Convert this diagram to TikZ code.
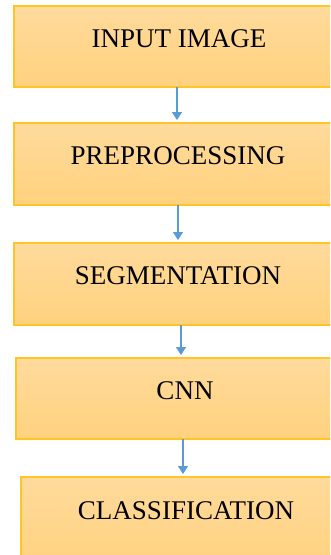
\documentclass[tikz,border=0pt]{standalone}
\usepackage{fontspec}
\setmainfont{Liberation Serif}
\usetikzlibrary{arrows.meta}
\definecolor{boxline}{HTML}{FFC425}
\definecolor{boxtop}{HTML}{FFDA9C}
\definecolor{boxbot}{HTML}{FFD27E}
\definecolor{flowblue}{HTML}{5B9BD5}
\tikzset{
	stage/.style={draw=boxline,line width=1.5pt,top color=boxtop,bottom color=boxbot,rectangle,anchor=north west,inner sep=0,outer sep=0,text height=41pt,text depth=40pt,font=\fontsize{27}{30}\selectfont},
	flow/.style={draw=flowblue,line width=1.3pt,-{Triangle[length=8pt,width=10pt]},shorten >=3pt}
}
\begin{document}
\begin{tikzpicture}[x=1pt,y=-1pt]
	\useasboundingbox (0,0) rectangle (330,555);
	\clip (0,0) rectangle (330,555);
	\node[stage,minimum width=330pt] (input) at (14,6) {INPUT IMAGE};
	\node[stage,minimum width=328pt,text depth=41pt] (prep) at (14,123) {PREPROCESSING};
	\node[stage,minimum width=328pt,text depth=41pt] (seg) at (14,243) {SEGMENTATION};
	\node[stage,minimum width=338pt] (cnn) at (16,358) {CNN};
	\node[stage,minimum width=330pt,text height=42pt,text depth=50pt] (cls) at (21,477) {CLASSIFICATION};
	\draw[flow] ([xshift=-2pt]input.south) -- ([xshift=-2pt]input.south |- prep.north);
	\draw[flow] (prep.south) -- (prep.south |- seg.north);
	\draw[flow] ([xshift=3pt]seg.south) -- ([xshift=3pt]seg.south |- cnn.north);
	\draw[flow] ([xshift=-2pt]cnn.south) -- ([xshift=-2pt]cnn.south |- cls.north);
\end{tikzpicture}
\end{document}
